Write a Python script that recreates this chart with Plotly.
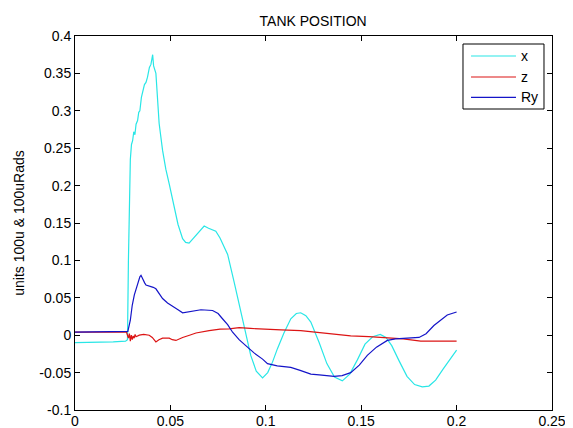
import plotly.graph_objects as go

# x (cyan) series
x_t = [0.0, 0.010, 0.020, 0.0265, 0.0275, 0.0280, 0.0284, 0.0290, 0.0296, 0.0302, 0.0308, 0.0314,
       0.0320, 0.0328, 0.0334, 0.0340, 0.0348, 0.0358, 0.0364, 0.0372, 0.0380, 0.0390, 0.0398,
       0.0407, 0.0412, 0.0424, 0.0441, 0.0459, 0.0476, 0.0494, 0.0510, 0.0520, 0.0540, 0.0564,
       0.0580, 0.0598, 0.0615, 0.0635, 0.0655, 0.0677, 0.0700, 0.0720, 0.0738, 0.0760, 0.0780,
       0.0800, 0.0835, 0.0869, 0.0895, 0.0921, 0.0950, 0.0983, 0.1010, 0.1035, 0.1061, 0.1095,
       0.1131, 0.1160, 0.1183, 0.1210, 0.1236, 0.1280, 0.1320, 0.1360, 0.1401, 0.1440, 0.1480,
       0.1520, 0.1560, 0.1600, 0.1630, 0.1660, 0.1700, 0.1740, 0.1780, 0.1820, 0.1855, 0.1890,
       0.1930, 0.1970, 0.2000]
x_v = [-0.010, -0.010, -0.009, -0.008, -0.006, 0.100, 0.180, 0.235, 0.255, 0.260, 0.272, 0.268,
       0.282, 0.287, 0.298, 0.300, 0.318, 0.327, 0.335, 0.338, 0.345, 0.358, 0.362,
       0.375, 0.360, 0.350, 0.283, 0.247, 0.222, 0.202, 0.183, 0.170, 0.148, 0.129,
       0.124, 0.123, 0.128, 0.134, 0.141, 0.146, 0.143, 0.141, 0.139, 0.130, 0.120,
       0.108, 0.070, 0.031, 0.002, -0.027, -0.048, -0.057, -0.050, -0.036, -0.018, 0.003,
       0.022, 0.029, 0.030, 0.026, 0.0175, -0.010, -0.038, -0.056, -0.061, -0.052, -0.033,
       -0.012, -0.002, 0.001, -0.003, -0.014, -0.035, -0.055, -0.066, -0.069, -0.068, -0.060,
       -0.045, -0.030, -0.020]

# z (red) series
z_t = [0.0, 0.0270, 0.0280, 0.0285, 0.0290, 0.0295, 0.0300, 0.0305, 0.0310, 0.0315, 0.0320,
       0.0337, 0.0360, 0.0389, 0.0405, 0.0424, 0.0440, 0.0459, 0.0494, 0.0510, 0.0529, 0.0545,
       0.0564, 0.0600, 0.0634, 0.0703, 0.0760, 0.0808, 0.0860, 0.0920, 0.0983, 0.1080, 0.1183,
       0.1260, 0.1340, 0.1445, 0.1540, 0.1620, 0.1720, 0.1812, 0.1900, 0.2000]
z_v = [0.004, 0.004, -0.004, 0.002, -0.008, 0.000, -0.006, -0.001, -0.004, 0.001, -0.002,
       0.000, 0.001, 0.000, -0.003, -0.009, -0.006, -0.004, -0.004, -0.006, -0.007, -0.005,
       -0.003, 0.000, 0.003, 0.006, 0.008, 0.0085, 0.010, 0.009, 0.008, 0.007, 0.006,
       0.004, 0.002, -0.001, -0.002, -0.003, -0.005, -0.008, -0.008, -0.008]

# Ry (blue) series
ry_t = [0.0, 0.010, 0.020, 0.0270, 0.0277, 0.0290, 0.0300, 0.0311, 0.0320, 0.0330, 0.0340,
        0.0346, 0.0355, 0.0365, 0.0372, 0.0390, 0.0410, 0.0424, 0.0440, 0.0459, 0.0485,
        0.0512, 0.0540, 0.0564, 0.0590, 0.0616, 0.0660, 0.0721, 0.0750, 0.0773, 0.0800,
        0.0826, 0.0860, 0.0895, 0.0940, 0.0983, 0.1009, 0.1060, 0.1131, 0.1180, 0.1236,
        0.1280, 0.1323, 0.1358, 0.1400, 0.1445, 0.1490, 0.1532, 0.1580, 0.1637, 0.1680,
        0.1724, 0.1803, 0.1840, 0.1881, 0.1951, 0.2000]
ry_v = [0.004, 0.004, 0.004, 0.004, 0.005, 0.020, 0.040, 0.054, 0.062, 0.072, 0.078,
        0.080, 0.074, 0.070, 0.067, 0.066, 0.064, 0.062, 0.056, 0.049, 0.043,
        0.038, 0.034, 0.030, 0.031, 0.033, 0.034, 0.033, 0.029, 0.022, 0.014,
        0.004, -0.006, -0.014, -0.024, -0.032, -0.038, -0.041, -0.043, -0.047, -0.052,
        -0.053, -0.054, -0.055, -0.054, -0.050, -0.040, -0.027, -0.016, -0.007, -0.005,
        -0.004, -0.003, 0.002, 0.013, 0.027, 0.031]

series_names = ["x", "z", "Ry"]
series_colors = ["rgb(40,230,230)", "rgb(220,20,20)", "rgb(20,20,200)"]

x_ticks = [0, 0.05, 0.1, 0.15, 0.2, 0.25]
x_ticktext = ["0", "0.05", "0.1", "0.15", "0.2", "0.25"]
y_ticks = [-0.1, -0.05, 0, 0.05, 0.1, 0.15, 0.2, 0.25, 0.3, 0.35, 0.4]
y_ticktext = ["-0.1", "-0.05", "0", "0.05", "0.1", "0.15", "0.2", "0.25", "0.3", "0.35", "0.4"]

FAM = "Liberation Sans, Arial, sans-serif"

fig = go.Figure()
for t, v, n, c in zip([x_t, z_t, ry_t], [x_v, z_v, ry_v], series_names, series_colors):
    fig.add_trace(go.Scatter(x=t, y=v, mode="lines", name=n,
                             line=dict(color=c, width=1.2), showlegend=False))

font = dict(family=FAM, size=14, color="black")
axis_common = dict(showline=True, linecolor="black", linewidth=1, mirror="allticks",
                   ticks="inside", ticklen=5, tickcolor="black", showgrid=False,
                   zeroline=False, tickfont=font, automargin=False)

# Legend drawn in plot-area (paper) coordinates, MATLAB style
leg_box = dict(x0=0.8134, x1=0.9832, y0=0.8048, y1=0.9786)
leg_line_x = (0.8302, 0.9245)
leg_rows_y = [0.9465, 0.8904, 0.8361]
leg_text_x = 0.931

shapes = [dict(type="rect", xref="paper", yref="paper", layer="above",
               line=dict(color="black", width=1), fillcolor="white", **leg_box)]
annotations = []
for n, c, yy in zip(series_names, series_colors, leg_rows_y):
    shapes.append(dict(type="line", xref="paper", yref="paper", layer="above",
                       x0=leg_line_x[0], x1=leg_line_x[1], y0=yy, y1=yy,
                       line=dict(color=c, width=1.2)))
    annotations.append(dict(text=n, xref="paper", yref="paper", x=leg_text_x, y=yy,
                            xanchor="left", yanchor="middle", showarrow=False,
                            font=font))

fig.update_layout(
    width=565, height=420,
    margin=dict(l=67, r=21, t=28, b=18),
    paper_bgcolor="white", plot_bgcolor="white",
    font=font,
    title=dict(text="TANK POSITION", x=0.540, xanchor="center", y=0.969, yanchor="middle",
               font=dict(family=FAM, size=14, color="black")),
    xaxis=dict(range=[0, 0.25], tickvals=x_ticks, ticktext=x_ticktext,
               ticklabelstandoff=-2, **axis_common),
    yaxis=dict(range=[-0.1, 0.4], tickvals=y_ticks, ticktext=y_ticktext,
               title=dict(text="units 100u & 100uRads", standoff=11, font=font),
               **axis_common),
    shapes=shapes,
    annotations=annotations,
    showlegend=False,
)

fig.write_html("out.html")
